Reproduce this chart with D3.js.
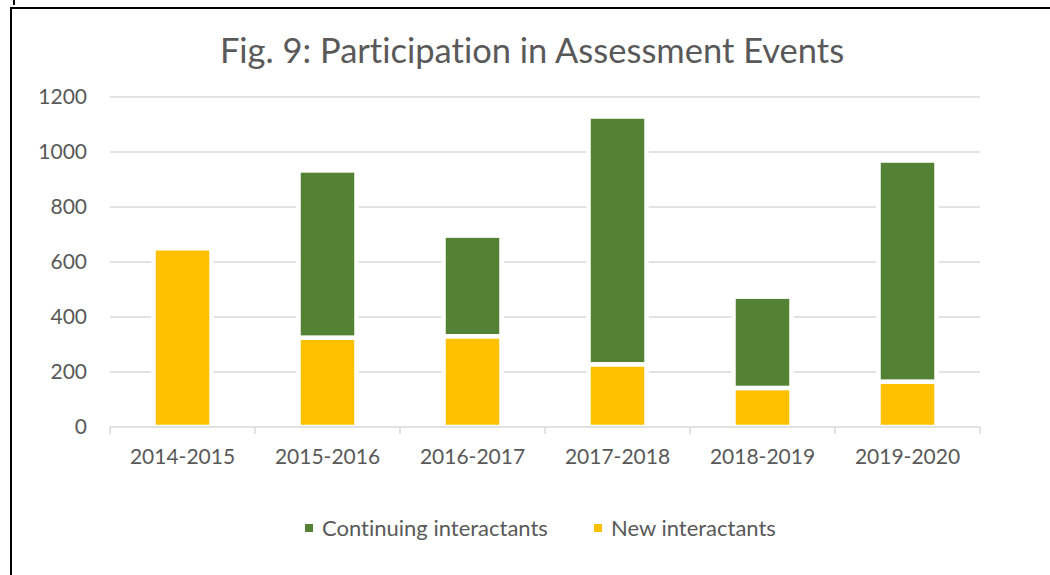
<!DOCTYPE html>
<html>
<head>
<meta charset="utf-8">
<script src="https://cdn.jsdelivr.net/npm/d3@7"></script>
<style>
  body { margin: 0; background: #fff; }
  text { font-family: Lato, "Open Sans", sans-serif; fill: #595959; font-variant-ligatures: none; }
</style>
</head>
<body>
<div id="container"></div>
<script>
/* CONSTANTS AND GLOBALS */
const width = 1050;
const height = 575;
const margin = { top: 97, bottom: 148, left: 110, right: 70 }

/* DATA */
const years = ["2014-2015", "2015-2016", "2016-2017", "2017-2018", "2018-2019", "2019-2020"]
const newInteractants = [650, 325, 330, 228, 142, 165]
const continuingInteractants = [0, 608, 366, 901, 332, 804]
const yTicks = [0, 200, 400, 600, 800, 1000, 1200]
const seriesNames = ["Continuing interactants", "New interactants"]
const colors = { "New interactants": "#ffc000", "Continuing interactants": "#548235" }

const table = years.map((y, i) => ({
  year: y,
  "New interactants": newInteractants[i],
  "Continuing interactants": continuingInteractants[i]
}))

/* SCALES */
// outer band for axis ticks at category boundaries
const xOuter = d3.scaleBand()
  .domain(years)
  .range([margin.left, width - margin.right])

// bars
const xScale = d3.scaleBand()
  .domain(years)
  .range([margin.left, width - margin.right])
  .paddingInner(.6)
  .paddingOuter(.3)

const yScale = d3.scaleLinear()
  .domain([0, 1200])
  .range([height - margin.bottom, margin.top])

/* HTML ELEMENTS */
const svg = d3.select("#container")
  .append("svg")
  .attr("width", width)
  .attr("height", height)

// frame
svg.append("line")
  .attr("x1", 10).attr("x2", width)
  .attr("y1", 8).attr("y2", 8)
  .attr("stroke", "#000").attr("stroke-width", 2)
svg.append("line")
  .attr("x1", 11).attr("x2", 11)
  .attr("y1", 7).attr("y2", height)
  .attr("stroke", "#000").attr("stroke-width", 2)
svg.append("line")
  .attr("x1", 14).attr("x2", 14)
  .attr("y1", 0).attr("y2", 5)
  .attr("stroke", "#000").attr("stroke-width", 2)

// title
svg.append("text")
  .attr("x", 532)
  .attr("y", 63)
  .attr("text-anchor", "middle")
  .style("font-size", "34.5px")
  .text("Fig. 9: Participation in Assessment Events")

// gridlines
svg.append("g")
  .selectAll("line")
  .data(yTicks.filter(d => d > 0))
  .join("line")
  .attr("x1", margin.left)
  .attr("x2", width - margin.right)
  .attr("y1", d => yScale(d))
  .attr("y2", d => yScale(d))
  .attr("stroke", "#d9d9d9")
  .attr("stroke-width", 1.5)

// y axis labels
const yAxis = d3.axisLeft(yScale)
  .tickValues(yTicks)
  .tickFormat(d3.format("d"))
  .tickSize(0)
  .tickPadding(23)
svg.append("g")
  .attr("transform", `translate(${margin.left},0)`)
  .call(yAxis)
  .call(g => g.select(".domain").remove())
  .call(g => g.selectAll("text")
    .style("font-size", "21px")
    .attr("fill", "#595959")
    .style("font-family", "Lato, 'Open Sans', sans-serif"))

// stacked bars
const stack = d3.stack().keys(["New interactants", "Continuing interactants"])
const stacked = stack(table)

svg.append("g")
  .selectAll("g")
  .data(stacked)
  .join("g")
  .attr("fill", d => colors[d.key])
  .selectAll("rect")
  .data(d => d.filter(p => p[1] > p[0]))
  .join("rect")
  .attr("x", d => xScale(d.data.year))
  .attr("width", xScale.bandwidth())
  .attr("y", d => yScale(d[1]))
  .attr("height", d => yScale(d[0]) - yScale(d[1]))
  .attr("stroke", "#fff")
  .attr("stroke-width", 4.5)

// x axis
const y0 = yScale(0)
svg.append("line")
  .attr("x1", margin.left).attr("x2", width - margin.right)
  .attr("y1", y0).attr("y2", y0)
  .attr("stroke", "#d9d9d9").attr("stroke-width", 1.5)

const boundaries = years.map(d => xOuter(d)).concat([xOuter(years[years.length - 1]) + xOuter.bandwidth()])
svg.append("g")
  .selectAll("line")
  .data(boundaries)
  .join("line")
  .attr("x1", d => d).attr("x2", d => d)
  .attr("y1", y0).attr("y2", y0 + 7)
  .attr("stroke", "#d9d9d9").attr("stroke-width", 1.5)

const xAxis = d3.axisBottom(xScale)
  .tickSize(0)
  .tickPadding(22)
svg.append("g")
  .attr("transform", `translate(0,${y0})`)
  .call(xAxis)
  .call(g => g.select(".domain").remove())
  .call(g => g.selectAll("text")
    .style("font-size", "21px")
    .attr("fill", "#595959")
    .style("font-family", "Lato, 'Open Sans', sans-serif"))

// legend
const legendX = [305, 594]
const legend = svg.append("g")
  .selectAll("g")
  .data(seriesNames)
  .join("g")
  .attr("transform", (d, i) => `translate(${legendX[i]},528)`)
legend.append("rect")
  .attr("x", 0).attr("y", -4)
  .attr("width", 8).attr("height", 8)
  .attr("fill", d => colors[d])
legend.append("text")
  .attr("x", 17)
  .attr("y", 0)
  .attr("dy", "0.35em")
  .style("font-size", "22px")
  .text(d => d)
</script>
</body>
</html>
